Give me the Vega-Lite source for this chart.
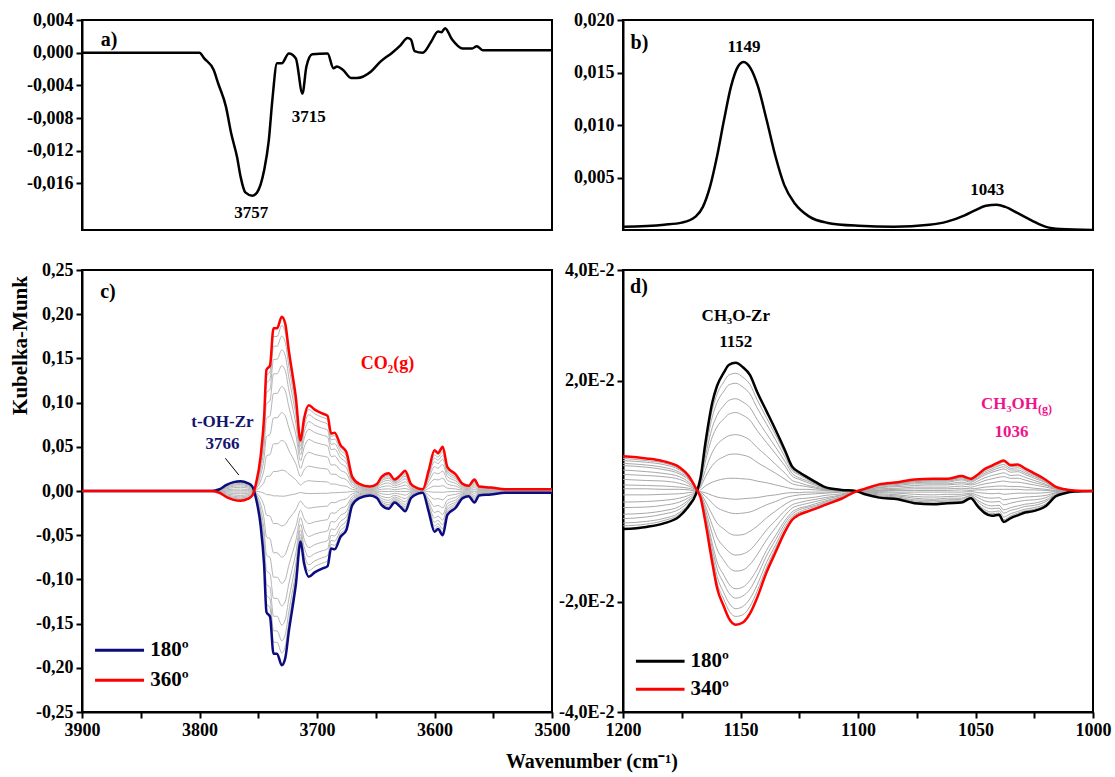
{
  "$schema": "https://vega.github.io/schema/vega-lite/v6.json",
  "background": "white",
  "padding": {"left": 8, "top": 10, "right": 10, "bottom": 5},
  "config": {
    "font": "Liberation Serif",
    "view": {"stroke": "black", "strokeWidth": 2},
    "axis": {"domainColor": "black", "domainWidth": 2, "tickColor": "black", "tickWidth": 2, "tickSize": 6, "labelColor": "black", "labelFont": "Liberation Serif", "labelFontSize": 18, "labelFontWeight": "bold", "grid": false, "labelPadding": 3, "labelFlush": false, "labelOverlap": false, "titleFont": "Liberation Serif", "titleFontWeight": "bold", "titleColor": "black"},
    "text": {"font": "Liberation Serif", "fontWeight": "bold", "fontSize": 17, "baseline": "middle", "color": "black"}
  },
  "title": {"text": "Wavenumber (cm⁻¹)", "orient": "bottom", "anchor": "middle", "fontSize": 20, "font": "Liberation Serif", "fontWeight": "bold", "color": "black", "offset": 12, "dx": 32},
  "columns": 2,
  "bounds": "flush",
  "spacing": {"row": 40, "column": 71},
  "align": "each",
  "resolve": {"scale": {"color": "independent"}, "legend": {"color": "independent"}},
  "concat": [
    {
      "width": 470, "height": 210,
      "data": {"values": [
        {"x":3900,"y":0},{"x":3820,"y":0},{"x":3800,"y":0},{"x":3796,"y":-0.0007},{"x":3788,"y":-0.0021},{"x":3784,"y":-0.0038},{"x":3777.5,"y":-0.0066},{"x":3773,"y":-0.0099},{"x":3768,"y":-0.0128},{"x":3765,"y":-0.0152},{"x":3761,"y":-0.0171},{"x":3755,"y":-0.0175},{"x":3751,"y":-0.0171},{"x":3745,"y":-0.0144},{"x":3741,"y":-0.0107},{"x":3738,"y":-0.0058},{"x":3734,"y":-0.0013},{"x":3730,"y":-0.0013},{"x":3724,"y":-0.0001},{"x":3718,"y":-0.0007},{"x":3712.4,"y":-0.005},{"x":3709,"y":-0.0017},{"x":3704,"y":-0.0002},{"x":3691,"y":-0.0001},{"x":3686,"y":-0.0019},{"x":3683,"y":-0.0017},{"x":3678,"y":-0.0021},{"x":3671,"y":-0.0031},{"x":3666,"y":-0.0031},{"x":3654,"y":-0.0023},{"x":3646,"y":-0.0011},{"x":3636,"y":0},{"x":3629,"y":0.0009},{"x":3623,"y":0.0018},{"x":3620,"y":0.0016},{"x":3617,"y":0.0002},{"x":3610,"y":0},{"x":3603,"y":0.0013},{"x":3597,"y":0.0026},{"x":3594,"y":0.0025},{"x":3591,"y":0.003},{"x":3585,"y":0.0016},{"x":3576,"y":0.0005},{"x":3568,"y":0.0005},{"x":3564,"y":0.0008},{"x":3559,"y":0.0003},{"x":3528,"y":0.0003},{"x":3500,"y":0.0003}
      ]},
      "layer": [
        {"mark": {"type": "line", "color": "black", "strokeWidth": 2.5, "strokeJoin": "round", "interpolate": "monotone", "clip": true},
         "encoding": {
           "x": {"field": "x", "type": "quantitative", "scale": {"domain": [3500, 3900], "reverse": true, "nice": false, "zero": false}, "axis": null},
           "y": {"field": "y", "type": "quantitative", "scale": {"domain": [-0.0217, 0.004], "nice": false, "zero": false}, "axis": {"title": null, "values": [0.004, 0, -0.004, -0.008, -0.012, -0.016], "labelExpr": "replace(replace(format(datum.value, '.3f'), '.', ','), '−', '-')"}}
         }},
        {"data": {"values": [{}]}, "mark": {"type": "text", "text": "a)", "align": "left", "fontSize": 20},
         "encoding": {"x": {"datum": 3884, "type": "quantitative", "title": null}, "y": {"datum": 0.0016, "type": "quantitative", "title": null}}},
        {"data": {"values": [{}]}, "mark": {"type": "text", "text": "3757", "align": "center"},
         "encoding": {"x": {"datum": 3756, "type": "quantitative", "title": null}, "y": {"datum": -0.0196, "type": "quantitative", "title": null}}},
        {"data": {"values": [{}]}, "mark": {"type": "text", "text": "3715", "align": "center"},
         "encoding": {"x": {"datum": 3707, "type": "quantitative", "title": null}, "y": {"datum": -0.0079, "type": "quantitative", "title": null}}}
      ]
    },
    {
      "width": 470, "height": 210,
      "data": {"values": [
        {"x":1200,"y":0.0003},{"x":1182.5,"y":0.0005},{"x":1175,"y":0.0007},{"x":1169,"y":0.0013},{"x":1166,"y":0.0022},{"x":1163,"y":0.0041},{"x":1160,"y":0.007},{"x":1157,"y":0.0105},{"x":1154,"y":0.0137},{"x":1151,"y":0.0156},{"x":1148.7,"y":0.016},{"x":1145.7,"y":0.0154},{"x":1142.6,"y":0.0137},{"x":1138.9,"y":0.0105},{"x":1135.1,"y":0.007},{"x":1131.4,"y":0.0043},{"x":1126.8,"y":0.0025},{"x":1120.9,"y":0.0013},{"x":1113.3,"y":0.0007},{"x":1099.8,"y":0.0004},{"x":1084.7,"y":0.0003},{"x":1069.7,"y":0.0005},{"x":1062.1,"y":0.0008},{"x":1054.6,"y":0.0014},{"x":1050,"y":0.0019},{"x":1045.6,"y":0.0023},{"x":1041,"y":0.0024},{"x":1037.3,"y":0.0022},{"x":1032,"y":0.0016},{"x":1026,"y":0.0009},{"x":1020,"y":0.0003},{"x":1014,"y":0.0001},{"x":1000,"y":0}
      ]},
      "layer": [
        {"mark": {"type": "line", "color": "black", "strokeWidth": 2.5, "strokeJoin": "round", "interpolate": "monotone", "clip": true},
         "encoding": {
           "x": {"field": "x", "type": "quantitative", "scale": {"domain": [1000, 1200], "reverse": true, "nice": false, "zero": false}, "axis": null},
           "y": {"field": "y", "type": "quantitative", "scale": {"domain": [0, 0.02], "nice": false}, "axis": {"title": null, "values": [0.005, 0.01, 0.015, 0.02], "labelExpr": "replace(format(datum.value, '.3f'), '.', ',')"}}
         }},
        {"data": {"values": [{}]}, "mark": {"type": "text", "text": "b)", "align": "left", "fontSize": 20},
         "encoding": {"x": {"datum": 1196.8, "type": "quantitative", "title": null}, "y": {"datum": 0.0178, "type": "quantitative", "title": null}}},
        {"data": {"values": [{}]}, "mark": {"type": "text", "text": "1149", "align": "center"},
         "encoding": {"x": {"datum": 1148.5, "type": "quantitative", "title": null}, "y": {"datum": 0.0174, "type": "quantitative", "title": null}}},
        {"data": {"values": [{}]}, "mark": {"type": "text", "text": "1043", "align": "center"},
         "encoding": {"x": {"datum": 1045, "type": "quantitative", "title": null}, "y": {"datum": 0.0038, "type": "quantitative", "title": null}}}
      ]
    },
    {
      "width": 470, "height": 442,
      "data": {"values": [
        {"x":3900,"180º":0,"360º":0,"g1":0,"g2":0,"g3":0,"g4":0,"g5":0,"g6":0,"g7":0,"g8":0,"g9":0,"g10":0,"g11":0,"g12":0,"g13":0,"g14":0,"g15":0,"g16":0},
        {"x":3790,"180º":0,"360º":0,"g1":0,"g2":0,"g3":0,"g4":0,"g5":0,"g6":0,"g7":0,"g8":0,"g9":0,"g10":0,"g11":0,"g12":0,"g13":0,"g14":0,"g15":0,"g16":0},
        {"x":3783,"180º":0.002,"360º":-0.002,"g1":-0.0019,"g2":-0.0018,"g3":-0.0016,"g4":-0.0014,"g5":-0.0012,"g6":-0.0009,"g7":-0.0006,"g8":-0.0002,"g9":0.0001,"g10":0.0004,"g11":0.0008,"g12":0.0011,"g13":0.0013,"g14":0.0015,"g15":0.0017,"g16":0.0019},
        {"x":3777,"180º":0.007,"360º":-0.007,"g1":-0.0067,"g2":-0.0062,"g3":-0.0057,"g4":-0.005,"g5":-0.0042,"g6":-0.0032,"g7":-0.002,"g8":-0.0008,"g9":0.0002,"g10":0.0014,"g11":0.0027,"g12":0.0037,"g13":0.0046,"g14":0.0054,"g15":0.006,"g16":0.0065},
        {"x":3771,"180º":0.01,"360º":-0.01,"g1":-0.0095,"g2":-0.0089,"g3":-0.0081,"g4":-0.0072,"g5":-0.006,"g6":-0.0045,"g7":-0.0029,"g8":-0.0012,"g9":0.0003,"g10":0.002,"g11":0.0038,"g12":0.0053,"g13":0.0066,"g14":0.0077,"g15":0.0086,"g16":0.0093},
        {"x":3765,"180º":0.011,"360º":-0.011,"g1":-0.0105,"g2":-0.0098,"g3":-0.0089,"g4":-0.0079,"g5":-0.0066,"g6":-0.005,"g7":-0.0032,"g8":-0.0013,"g9":0.0003,"g10":0.0022,"g11":0.0042,"g12":0.0058,"g13":0.0073,"g14":0.0085,"g15":0.0095,"g16":0.0102},
        {"x":3759,"180º":0.009,"360º":-0.009,"g1":-0.0086,"g2":-0.008,"g3":-0.0073,"g4":-0.0065,"g5":-0.0054,"g6":-0.0041,"g7":-0.0026,"g8":-0.0011,"g9":0.0003,"g10":0.0018,"g11":0.0034,"g12":0.0048,"g13":0.0059,"g14":0.0069,"g15":0.0077,"g16":0.0084},
        {"x":3755,"180º":0.005,"360º":-0.005,"g1":-0.0048,"g2":-0.0045,"g3":-0.0041,"g4":-0.0036,"g5":-0.003,"g6":-0.0023,"g7":-0.0015,"g8":-0.0006,"g9":0.0002,"g10":0.001,"g11":0.0019,"g12":0.0027,"g13":0.0033,"g14":0.0039,"g15":0.0043,"g16":0.0047},
        {"x":3752,"180º":-0.008,"360º":0.008,"g1":0.0076,"g2":0.0071,"g3":0.0065,"g4":0.0058,"g5":0.0048,"g6":0.0036,"g7":0.0023,"g8":0.001,"g9":-0.0002,"g10":-0.0016,"g11":-0.003,"g12":-0.0042,"g13":-0.0053,"g14":-0.0062,"g15":-0.0069,"g16":-0.0074},
        {"x":3748,"180º":-0.039,"360º":0.039,"g1":0.037,"g2":0.0347,"g3":0.0316,"g4":0.0281,"g5":0.0234,"g6":0.0176,"g7":0.0113,"g8":0.0047,"g9":-0.0012,"g10":-0.0078,"g11":-0.0148,"g12":-0.0207,"g13":-0.0257,"g14":-0.03,"g15":-0.0335,"g16":-0.0363},
        {"x":3745,"180º":-0.084,"360º":0.084,"g1":0.0798,"g2":0.0748,"g3":0.068,"g4":0.0605,"g5":0.0504,"g6":0.0378,"g7":0.0244,"g8":0.0101,"g9":-0.0025,"g10":-0.0168,"g11":-0.0319,"g12":-0.0445,"g13":-0.0554,"g14":-0.0647,"g15":-0.0722,"g16":-0.0781},
        {"x":3743,"180º":-0.137,"360º":0.137,"g1":0.1302,"g2":0.1219,"g3":0.111,"g4":0.0986,"g5":0.0822,"g6":0.0617,"g7":0.0397,"g8":0.0164,"g9":-0.0041,"g10":-0.0274,"g11":-0.0521,"g12":-0.0726,"g13":-0.0904,"g14":-0.1055,"g15":-0.1178,"g16":-0.1274},
        {"x":3740,"180º":-0.142,"360º":0.142,"g1":0.1349,"g2":0.1264,"g3":0.115,"g4":0.1022,"g5":0.0852,"g6":0.0639,"g7":0.0412,"g8":0.017,"g9":-0.0043,"g10":-0.0284,"g11":-0.054,"g12":-0.0753,"g13":-0.0937,"g14":-0.1093,"g15":-0.1221,"g16":-0.1321},
        {"x":3737,"180º":-0.184,"360º":0.184,"g1":0.1748,"g2":0.1638,"g3":0.149,"g4":0.1325,"g5":0.1104,"g6":0.0828,"g7":0.0534,"g8":0.0221,"g9":-0.0055,"g10":-0.0368,"g11":-0.0699,"g12":-0.0975,"g13":-0.1214,"g14":-0.1417,"g15":-0.1582,"g16":-0.1711},
        {"x":3734,"180º":-0.184,"360º":0.184,"g1":0.1748,"g2":0.1638,"g3":0.149,"g4":0.1325,"g5":0.1104,"g6":0.0828,"g7":0.0534,"g8":0.0221,"g9":-0.0055,"g10":-0.0368,"g11":-0.0699,"g12":-0.0975,"g13":-0.1214,"g14":-0.1417,"g15":-0.1582,"g16":-0.1711},
        {"x":3730,"180º":-0.197,"360º":0.197,"g1":0.1872,"g2":0.1753,"g3":0.1596,"g4":0.1418,"g5":0.1182,"g6":0.0887,"g7":0.0571,"g8":0.0236,"g9":-0.0059,"g10":-0.0394,"g11":-0.0749,"g12":-0.1044,"g13":-0.13,"g14":-0.1517,"g15":-0.1694,"g16":-0.1832},
        {"x":3727,"180º":-0.189,"360º":0.189,"g1":0.1796,"g2":0.1682,"g3":0.1531,"g4":0.1361,"g5":0.1134,"g6":0.0851,"g7":0.0548,"g8":0.0227,"g9":-0.0057,"g10":-0.0378,"g11":-0.0718,"g12":-0.1002,"g13":-0.1247,"g14":-0.1455,"g15":-0.1625,"g16":-0.1758},
        {"x":3724,"180º":-0.159,"360º":0.159,"g1":0.151,"g2":0.1415,"g3":0.1288,"g4":0.1145,"g5":0.0954,"g6":0.0716,"g7":0.0461,"g8":0.0191,"g9":-0.0048,"g10":-0.0318,"g11":-0.0604,"g12":-0.0843,"g13":-0.1049,"g14":-0.1224,"g15":-0.1367,"g16":-0.1479},
        {"x":3721,"180º":-0.133,"360º":0.133,"g1":0.1264,"g2":0.1184,"g3":0.1077,"g4":0.0958,"g5":0.0798,"g6":0.0599,"g7":0.0386,"g8":0.016,"g9":-0.004,"g10":-0.0266,"g11":-0.0505,"g12":-0.0705,"g13":-0.0878,"g14":-0.1024,"g15":-0.1144,"g16":-0.1237},
        {"x":3718,"180º":-0.106,"360º":0.106,"g1":0.1007,"g2":0.0943,"g3":0.0859,"g4":0.0763,"g5":0.0636,"g6":0.0477,"g7":0.0307,"g8":0.0127,"g9":-0.0032,"g10":-0.0212,"g11":-0.0403,"g12":-0.0562,"g13":-0.07,"g14":-0.0816,"g15":-0.0912,"g16":-0.0986},
        {"x":3714,"180º":-0.057,"360º":0.057,"g1":0.0542,"g2":0.0507,"g3":0.0462,"g4":0.041,"g5":0.0342,"g6":0.0257,"g7":0.0165,"g8":0.0068,"g9":-0.0017,"g10":-0.0114,"g11":-0.0217,"g12":-0.0302,"g13":-0.0376,"g14":-0.0439,"g15":-0.049,"g16":-0.053},
        {"x":3711,"180º":-0.082,"360º":0.082,"g1":0.0779,"g2":0.073,"g3":0.0664,"g4":0.059,"g5":0.0492,"g6":0.0369,"g7":0.0238,"g8":0.0098,"g9":-0.0025,"g10":-0.0164,"g11":-0.0312,"g12":-0.0435,"g13":-0.0541,"g14":-0.0631,"g15":-0.0705,"g16":-0.0763},
        {"x":3707,"180º":-0.097,"360º":0.097,"g1":0.0922,"g2":0.0863,"g3":0.0786,"g4":0.0698,"g5":0.0582,"g6":0.0437,"g7":0.0281,"g8":0.0116,"g9":-0.0029,"g10":-0.0194,"g11":-0.0369,"g12":-0.0514,"g13":-0.064,"g14":-0.0747,"g15":-0.0834,"g16":-0.0902},
        {"x":3702,"180º":-0.092,"360º":0.092,"g1":0.0874,"g2":0.0819,"g3":0.0745,"g4":0.0662,"g5":0.0552,"g6":0.0414,"g7":0.0267,"g8":0.011,"g9":-0.0028,"g10":-0.0184,"g11":-0.035,"g12":-0.0488,"g13":-0.0607,"g14":-0.0708,"g15":-0.0791,"g16":-0.0856},
        {"x":3696,"180º":-0.088,"360º":0.088,"g1":0.0836,"g2":0.0783,"g3":0.0713,"g4":0.0634,"g5":0.0528,"g6":0.0396,"g7":0.0255,"g8":0.0106,"g9":-0.0026,"g10":-0.0176,"g11":-0.0334,"g12":-0.0466,"g13":-0.0581,"g14":-0.0678,"g15":-0.0757,"g16":-0.0818},
        {"x":3691,"180º":-0.085,"360º":0.085,"g1":0.0808,"g2":0.0757,"g3":0.0689,"g4":0.0612,"g5":0.051,"g6":0.0383,"g7":0.0247,"g8":0.0102,"g9":-0.0026,"g10":-0.017,"g11":-0.0323,"g12":-0.0451,"g13":-0.0561,"g14":-0.0655,"g15":-0.0731,"g16":-0.0791},
        {"x":3688,"180º":-0.065,"360º":0.065,"g1":0.0618,"g2":0.0579,"g3":0.0527,"g4":0.0468,"g5":0.039,"g6":0.0293,"g7":0.0189,"g8":0.0078,"g9":-0.002,"g10":-0.013,"g11":-0.0247,"g12":-0.0345,"g13":-0.0429,"g14":-0.0501,"g15":-0.0559,"g16":-0.0605},
        {"x":3685,"180º":-0.066,"360º":0.066,"g1":0.0627,"g2":0.0587,"g3":0.0535,"g4":0.0475,"g5":0.0396,"g6":0.0297,"g7":0.0191,"g8":0.0079,"g9":-0.002,"g10":-0.0132,"g11":-0.0251,"g12":-0.035,"g13":-0.0436,"g14":-0.0508,"g15":-0.0568,"g16":-0.0614},
        {"x":3680,"180º":-0.052,"360º":0.052,"g1":0.0494,"g2":0.0463,"g3":0.0421,"g4":0.0374,"g5":0.0312,"g6":0.0234,"g7":0.0151,"g8":0.0062,"g9":-0.0016,"g10":-0.0104,"g11":-0.0198,"g12":-0.0276,"g13":-0.0343,"g14":-0.04,"g15":-0.0447,"g16":-0.0484},
        {"x":3675,"180º":-0.044,"360º":0.044,"g1":0.0418,"g2":0.0392,"g3":0.0356,"g4":0.0317,"g5":0.0264,"g6":0.0198,"g7":0.0128,"g8":0.0053,"g9":-0.0013,"g10":-0.0088,"g11":-0.0167,"g12":-0.0233,"g13":-0.029,"g14":-0.0339,"g15":-0.0378,"g16":-0.0409},
        {"x":3670,"180º":-0.016,"360º":0.016,"g1":0.0152,"g2":0.0142,"g3":0.013,"g4":0.0115,"g5":0.0096,"g6":0.0072,"g7":0.0046,"g8":0.0019,"g9":-0.0005,"g10":-0.0032,"g11":-0.0061,"g12":-0.0085,"g13":-0.0106,"g14":-0.0123,"g15":-0.0138,"g16":-0.0149},
        {"x":3664,"180º":-0.008,"360º":0.008,"g1":0.0076,"g2":0.0071,"g3":0.0065,"g4":0.0058,"g5":0.0048,"g6":0.0036,"g7":0.0023,"g8":0.001,"g9":-0.0002,"g10":-0.0016,"g11":-0.003,"g12":-0.0042,"g13":-0.0053,"g14":-0.0062,"g15":-0.0069,"g16":-0.0074},
        {"x":3655,"180º":-0.005,"360º":0.005,"g1":0.0048,"g2":0.0045,"g3":0.0041,"g4":0.0036,"g5":0.003,"g6":0.0023,"g7":0.0015,"g8":0.0006,"g9":-0.0002,"g10":-0.001,"g11":-0.0019,"g12":-0.0027,"g13":-0.0033,"g14":-0.0039,"g15":-0.0043,"g16":-0.0047},
        {"x":3649,"180º":-0.008,"360º":0.008,"g1":0.0076,"g2":0.0071,"g3":0.0065,"g4":0.0058,"g5":0.0048,"g6":0.0036,"g7":0.0023,"g8":0.001,"g9":-0.0002,"g10":-0.0016,"g11":-0.003,"g12":-0.0042,"g13":-0.0053,"g14":-0.0062,"g15":-0.0069,"g16":-0.0074},
        {"x":3645,"180º":-0.016,"360º":0.016,"g1":0.0152,"g2":0.0142,"g3":0.013,"g4":0.0115,"g5":0.0096,"g6":0.0072,"g7":0.0046,"g8":0.0019,"g9":-0.0005,"g10":-0.0032,"g11":-0.0061,"g12":-0.0085,"g13":-0.0106,"g14":-0.0123,"g15":-0.0138,"g16":-0.0149},
        {"x":3639,"180º":-0.02,"360º":0.02,"g1":0.019,"g2":0.0178,"g3":0.0162,"g4":0.0144,"g5":0.012,"g6":0.009,"g7":0.0058,"g8":0.0024,"g9":-0.0006,"g10":-0.004,"g11":-0.0076,"g12":-0.0106,"g13":-0.0132,"g14":-0.0154,"g15":-0.0172,"g16":-0.0186},
        {"x":3634,"180º":-0.013,"360º":0.013,"g1":0.0124,"g2":0.0116,"g3":0.0105,"g4":0.0094,"g5":0.0078,"g6":0.0059,"g7":0.0038,"g8":0.0016,"g9":-0.0004,"g10":-0.0026,"g11":-0.0049,"g12":-0.0069,"g13":-0.0086,"g14":-0.01,"g15":-0.0112,"g16":-0.0121},
        {"x":3629,"180º":-0.018,"360º":0.018,"g1":0.0171,"g2":0.016,"g3":0.0146,"g4":0.013,"g5":0.0108,"g6":0.0081,"g7":0.0052,"g8":0.0022,"g9":-0.0005,"g10":-0.0036,"g11":-0.0068,"g12":-0.0095,"g13":-0.0119,"g14":-0.0139,"g15":-0.0155,"g16":-0.0167},
        {"x":3625,"180º":-0.023,"360º":0.023,"g1":0.0219,"g2":0.0205,"g3":0.0186,"g4":0.0166,"g5":0.0138,"g6":0.0104,"g7":0.0067,"g8":0.0028,"g9":-0.0007,"g10":-0.0046,"g11":-0.0087,"g12":-0.0122,"g13":-0.0152,"g14":-0.0177,"g15":-0.0198,"g16":-0.0214},
        {"x":3620,"180º":-0.008,"360º":0.008,"g1":0.0076,"g2":0.0071,"g3":0.0065,"g4":0.0058,"g5":0.0048,"g6":0.0036,"g7":0.0023,"g8":0.001,"g9":-0.0002,"g10":-0.0016,"g11":-0.003,"g12":-0.0042,"g13":-0.0053,"g14":-0.0062,"g15":-0.0069,"g16":-0.0074},
        {"x":3614,"180º":-0.003,"360º":0.003,"g1":0.0029,"g2":0.0027,"g3":0.0024,"g4":0.0022,"g5":0.0018,"g6":0.0014,"g7":0.0009,"g8":0.0004,"g9":-0.0001,"g10":-0.0006,"g11":-0.0011,"g12":-0.0016,"g13":-0.002,"g14":-0.0023,"g15":-0.0026,"g16":-0.0028},
        {"x":3610,"180º":-0.002,"360º":0.002,"g1":0.0019,"g2":0.0018,"g3":0.0016,"g4":0.0014,"g5":0.0012,"g6":0.0009,"g7":0.0006,"g8":0.0002,"g9":-0.0001,"g10":-0.0004,"g11":-0.0008,"g12":-0.0011,"g13":-0.0013,"g14":-0.0015,"g15":-0.0017,"g16":-0.0019},
        {"x":3605,"180º":-0.023,"360º":0.023,"g1":0.0219,"g2":0.0205,"g3":0.0186,"g4":0.0166,"g5":0.0138,"g6":0.0104,"g7":0.0067,"g8":0.0028,"g9":-0.0007,"g10":-0.0046,"g11":-0.0087,"g12":-0.0122,"g13":-0.0152,"g14":-0.0177,"g15":-0.0198,"g16":-0.0214},
        {"x":3600,"180º":-0.046,"360º":0.046,"g1":0.0437,"g2":0.0409,"g3":0.0373,"g4":0.0331,"g5":0.0276,"g6":0.0207,"g7":0.0133,"g8":0.0055,"g9":-0.0014,"g10":-0.0092,"g11":-0.0175,"g12":-0.0244,"g13":-0.0304,"g14":-0.0354,"g15":-0.0396,"g16":-0.0428},
        {"x":3597,"180º":-0.043,"360º":0.043,"g1":0.0409,"g2":0.0383,"g3":0.0348,"g4":0.031,"g5":0.0258,"g6":0.0194,"g7":0.0125,"g8":0.0052,"g9":-0.0013,"g10":-0.0086,"g11":-0.0163,"g12":-0.0228,"g13":-0.0284,"g14":-0.0331,"g15":-0.037,"g16":-0.04},
        {"x":3593,"180º":-0.05,"360º":0.05,"g1":0.0475,"g2":0.0445,"g3":0.0405,"g4":0.036,"g5":0.03,"g6":0.0225,"g7":0.0145,"g8":0.006,"g9":-0.0015,"g10":-0.01,"g11":-0.019,"g12":-0.0265,"g13":-0.033,"g14":-0.0385,"g15":-0.043,"g16":-0.0465},
        {"x":3589,"180º":-0.027,"360º":0.027,"g1":0.0257,"g2":0.024,"g3":0.0219,"g4":0.0194,"g5":0.0162,"g6":0.0122,"g7":0.0078,"g8":0.0032,"g9":-0.0008,"g10":-0.0054,"g11":-0.0103,"g12":-0.0143,"g13":-0.0178,"g14":-0.0208,"g15":-0.0232,"g16":-0.0251},
        {"x":3582,"180º":-0.019,"360º":0.019,"g1":0.0181,"g2":0.0169,"g3":0.0154,"g4":0.0137,"g5":0.0114,"g6":0.0086,"g7":0.0055,"g8":0.0023,"g9":-0.0006,"g10":-0.0038,"g11":-0.0072,"g12":-0.0101,"g13":-0.0125,"g14":-0.0146,"g15":-0.0163,"g16":-0.0177},
        {"x":3576,"180º":-0.008,"360º":0.008,"g1":0.0076,"g2":0.0071,"g3":0.0065,"g4":0.0058,"g5":0.0048,"g6":0.0036,"g7":0.0023,"g8":0.001,"g9":-0.0002,"g10":-0.0016,"g11":-0.003,"g12":-0.0042,"g13":-0.0053,"g14":-0.0062,"g15":-0.0069,"g16":-0.0074},
        {"x":3571,"180º":-0.006,"360º":0.006,"g1":0.0057,"g2":0.0053,"g3":0.0049,"g4":0.0043,"g5":0.0036,"g6":0.0027,"g7":0.0017,"g8":0.0007,"g9":-0.0002,"g10":-0.0012,"g11":-0.0023,"g12":-0.0032,"g13":-0.004,"g14":-0.0046,"g15":-0.0052,"g16":-0.0056},
        {"x":3566,"180º":-0.013,"360º":0.013,"g1":0.0124,"g2":0.0116,"g3":0.0105,"g4":0.0094,"g5":0.0078,"g6":0.0059,"g7":0.0038,"g8":0.0016,"g9":-0.0004,"g10":-0.0026,"g11":-0.0049,"g12":-0.0069,"g13":-0.0086,"g14":-0.01,"g15":-0.0112,"g16":-0.0121},
        {"x":3562,"180º":-0.005,"360º":0.005,"g1":0.0048,"g2":0.0045,"g3":0.0041,"g4":0.0036,"g5":0.003,"g6":0.0023,"g7":0.0015,"g8":0.0006,"g9":-0.0002,"g10":-0.001,"g11":-0.0019,"g12":-0.0027,"g13":-0.0033,"g14":-0.0039,"g15":-0.0043,"g16":-0.0047},
        {"x":3552,"180º":-0.004,"360º":0.004,"g1":0.0038,"g2":0.0036,"g3":0.0032,"g4":0.0029,"g5":0.0024,"g6":0.0018,"g7":0.0012,"g8":0.0005,"g9":-0.0001,"g10":-0.0008,"g11":-0.0015,"g12":-0.0021,"g13":-0.0026,"g14":-0.0031,"g15":-0.0034,"g16":-0.0037},
        {"x":3540,"180º":-0.002,"360º":0.002,"g1":0.0019,"g2":0.0018,"g3":0.0016,"g4":0.0014,"g5":0.0012,"g6":0.0009,"g7":0.0006,"g8":0.0002,"g9":-0.0001,"g10":-0.0004,"g11":-0.0008,"g12":-0.0011,"g13":-0.0013,"g14":-0.0015,"g15":-0.0017,"g16":-0.0019},
        {"x":3500,"180º":-0.002,"360º":0.002,"g1":0.0019,"g2":0.0018,"g3":0.0016,"g4":0.0014,"g5":0.0012,"g6":0.0009,"g7":0.0006,"g8":0.0002,"g9":-0.0001,"g10":-0.0004,"g11":-0.0008,"g12":-0.0011,"g13":-0.0013,"g14":-0.0015,"g15":-0.0017,"g16":-0.0019}
      ]},
      "layer": [
        {"transform": [{"fold": ["g1","g2","g3","g4","g5","g6","g7","g8","g9","g10","g11","g12","g13","g14","g15","g16"], "as": ["k", "v"]}],
         "mark": {"type": "line", "color": "#b4b4b4", "strokeWidth": 1, "interpolate": "monotone", "clip": true},
         "encoding": {
           "x": {"field": "x", "type": "quantitative", "scale": {"domain": [3500, 3900], "reverse": true, "nice": false, "zero": false}, "axis": {"title": null, "values": [3900, 3850, 3800, 3750, 3700, 3650, 3600, 3550, 3500], "labelExpr": "datum.value % 100 == 0 ? format(datum.value, 'd') : ''"}},
           "y": {"field": "v", "type": "quantitative", "title": "Kubelka-Munk", "scale": {"domain": [-0.25, 0.25], "nice": false}, "axis": {"title": "Kubelka-Munk", "titleFontSize": 21, "titleX": -62, "titleY": 75, "titleAngle": 270, "titleAlign": "center", "titleBaseline": "middle", "values": [0.25, 0.2, 0.15, 0.1, 0.05, 0, -0.05, -0.1, -0.15, -0.2, -0.25], "labelExpr": "replace(replace(format(datum.value, '.2f'), '.', ','), '−', '-')"}},
           "detail": {"field": "k"}
         }},
        {"transform": [{"fold": ["180º", "360º"], "as": ["s", "v"]}],
         "mark": {"type": "line", "strokeWidth": 2.5, "strokeJoin": "round", "interpolate": "monotone", "clip": true},
         "encoding": {
           "x": {"field": "x", "type": "quantitative", "title": null},
           "y": {"field": "v", "type": "quantitative", "title": "Kubelka-Munk"},
           "color": {"field": "s", "type": "nominal", "scale": {"domain": ["180º", "360º"], "range": ["#0c0c80", "#ff0000"]}, "legend": null}
         }},
        {"data": {"values": [{}]}, "mark": {"type": "rule", "color": "#0c0c80", "strokeWidth": 3},
         "encoding": {"x": {"datum": 3888.9, "type": "quantitative", "title": null}, "x2": {"datum": 3847.2}, "y": {"datum": -0.1802, "type": "quantitative", "title": "Kubelka-Munk"}}},
        {"data": {"values": [{}]}, "mark": {"type": "rule", "color": "#ff0000", "strokeWidth": 3},
         "encoding": {"x": {"datum": 3888.9, "type": "quantitative", "title": null}, "x2": {"datum": 3847.2}, "y": {"datum": -0.2141, "type": "quantitative", "title": "Kubelka-Munk"}}},
        {"data": {"values": [{}]}, "mark": {"type": "text", "text": "180º", "align": "left", "fontSize": 21},
         "encoding": {"x": {"datum": 3842, "type": "quantitative", "title": null}, "y": {"datum": -0.1802, "type": "quantitative", "title": "Kubelka-Munk"}}},
        {"data": {"values": [{}]}, "mark": {"type": "text", "text": "360º", "align": "left", "fontSize": 21},
         "encoding": {"x": {"datum": 3842, "type": "quantitative", "title": null}, "y": {"datum": -0.2141, "type": "quantitative", "title": "Kubelka-Munk"}}},
        {"data": {"values": [{}]}, "mark": {"type": "text", "text": "c)", "align": "left", "fontSize": 20},
         "encoding": {"x": {"datum": 3884.5, "type": "quantitative", "title": null}, "y": {"datum": 0.225, "type": "quantitative", "title": "Kubelka-Munk"}}},
        {"data": {"values": [{}]}, "mark": {"type": "text", "text": "CO₂(g)", "align": "center", "color": "#ff0000", "fontSize": 18},
         "encoding": {"x": {"datum": 3640, "type": "quantitative", "title": null}, "y": {"datum": 0.144, "type": "quantitative", "title": "Kubelka-Munk"}}},
        {"data": {"values": [{}]}, "mark": {"type": "text", "text": "t-OH-Zr", "align": "center", "color": "#14146e"},
         "encoding": {"x": {"datum": 3780.5, "type": "quantitative", "title": null}, "y": {"datum": 0.078, "type": "quantitative", "title": "Kubelka-Munk"}}},
        {"data": {"values": [{}]}, "mark": {"type": "text", "text": "3766", "align": "center", "color": "#14146e"},
         "encoding": {"x": {"datum": 3780.5, "type": "quantitative", "title": null}, "y": {"datum": 0.0536, "type": "quantitative", "title": "Kubelka-Munk"}}},
        {"data": {"values": [{}]}, "mark": {"type": "rule", "color": "black", "strokeWidth": 1},
         "encoding": {"x": {"datum": 3778, "type": "quantitative", "title": null}, "y": {"datum": 0.037, "type": "quantitative", "title": "Kubelka-Munk"}, "x2": {"datum": 3766.5}, "y2": {"datum": 0.018}}}
      ]
    },
    {
      "width": 470, "height": 442,
      "data": {"values": [
        {"x":1200,"180º":-0.0069,"340º":0.0063,"g1":-0.0063,"g2":-0.0058,"g3":-0.005,"g4":-0.0042,"g5":-0.003,"g6":-0.002,"g7":-0.0007,"g8":0.0004,"g9":0.0011,"g10":0.0021,"g11":0.003,"g12":0.0038,"g13":0.0046,"g14":0.005,"g15":0.0055,"g16":0.0059},
        {"x":1190,"180º":-0.0065,"340º":0.0059,"g1":-0.006,"g2":-0.0055,"g3":-0.0047,"g4":-0.004,"g5":-0.0029,"g6":-0.0019,"g7":-0.0007,"g8":0.0004,"g9":0.001,"g10":0.0019,"g11":0.0028,"g12":0.0035,"g13":0.0043,"g14":0.0047,"g15":0.0052,"g16":0.0055},
        {"x":1183,"180º":-0.0059,"340º":0.0054,"g1":-0.0054,"g2":-0.005,"g3":-0.0042,"g4":-0.0036,"g5":-0.0026,"g6":-0.0017,"g7":-0.0006,"g8":0.0003,"g9":0.0009,"g10":0.0018,"g11":0.0026,"g12":0.0032,"g13":0.0039,"g14":0.0043,"g15":0.0048,"g16":0.0051},
        {"x":1176,"180º":-0.0046,"340º":0.0043,"g1":-0.0042,"g2":-0.0039,"g3":-0.0033,"g4":-0.0028,"g5":-0.002,"g6":-0.0013,"g7":-0.0005,"g8":0.0003,"g9":0.0007,"g10":0.0014,"g11":0.0021,"g12":0.0026,"g13":0.0031,"g14":0.0034,"g15":0.0038,"g16":0.004},
        {"x":1172,"180º":-0.0027,"340º":0.0027,"g1":-0.0025,"g2":-0.0023,"g3":-0.0019,"g4":-0.0016,"g5":-0.0012,"g6":-0.0008,"g7":-0.0003,"g8":0.0002,"g9":0.0005,"g10":0.0009,"g11":0.0013,"g12":0.0016,"g13":0.002,"g14":0.0022,"g15":0.0024,"g16":0.0025},
        {"x":1169,"180º":-0.0006,"340º":0.0005,"g1":-0.0006,"g2":-0.0005,"g3":-0.0004,"g4":-0.0004,"g5":-0.0003,"g6":-0.0002,"g7":-0.0001,"g8":0,"g9":0.0001,"g10":0.0002,"g11":0.0002,"g12":0.0003,"g13":0.0004,"g14":0.0004,"g15":0.0004,"g16":0.0005},
        {"x":1167,"180º":0.0024,"340º":-0.0012,"g1":0.0022,"g2":0.002,"g3":0.0017,"g4":0.0015,"g5":0.0011,"g6":0.0007,"g7":0.0002,"g8":-0.0001,"g9":-0.0002,"g10":-0.0004,"g11":-0.0006,"g12":-0.0007,"g13":-0.0009,"g14":-0.001,"g15":-0.0011,"g16":-0.0011},
        {"x":1165,"180º":0.0085,"340º":-0.0055,"g1":0.0078,"g2":0.0071,"g3":0.0061,"g4":0.0052,"g5":0.0037,"g6":0.0025,"g7":0.0009,"g8":-0.0003,"g9":-0.0009,"g10":-0.0018,"g11":-0.0026,"g12":-0.0033,"g13":-0.004,"g14":-0.0044,"g15":-0.0048,"g16":-0.0052},
        {"x":1162,"180º":0.016,"340º":-0.013,"g1":0.0147,"g2":0.0134,"g3":0.0115,"g4":0.0098,"g5":0.007,"g6":0.0046,"g7":0.0016,"g8":-0.0008,"g9":-0.0022,"g10":-0.0043,"g11":-0.0062,"g12":-0.0078,"g13":-0.0095,"g14":-0.0104,"g15":-0.0114,"g16":-0.0122},
        {"x":1160,"180º":0.019,"340º":-0.0175,"g1":0.0175,"g2":0.016,"g3":0.0137,"g4":0.0116,"g5":0.0084,"g6":0.0055,"g7":0.0019,"g8":-0.0011,"g9":-0.003,"g10":-0.0058,"g11":-0.0084,"g12":-0.0105,"g13":-0.0128,"g14":-0.014,"g15":-0.0154,"g16":-0.0165},
        {"x":1157,"180º":0.0215,"340º":-0.021,"g1":0.0198,"g2":0.0181,"g3":0.0155,"g4":0.0131,"g5":0.0095,"g6":0.0062,"g7":0.0022,"g8":-0.0013,"g9":-0.0036,"g10":-0.0069,"g11":-0.0101,"g12":-0.0126,"g13":-0.0153,"g14":-0.0168,"g15":-0.0185,"g16":-0.0197},
        {"x":1155,"180º":0.0228,"340º":-0.023,"g1":0.021,"g2":0.0192,"g3":0.0164,"g4":0.0139,"g5":0.01,"g6":0.0066,"g7":0.0023,"g8":-0.0014,"g9":-0.0039,"g10":-0.0076,"g11":-0.011,"g12":-0.0138,"g13":-0.0168,"g14":-0.0184,"g15":-0.0202,"g16":-0.0216},
        {"x":1152,"180º":0.0232,"340º":-0.0242,"g1":0.0213,"g2":0.0195,"g3":0.0167,"g4":0.0142,"g5":0.0102,"g6":0.0067,"g7":0.0023,"g8":-0.0015,"g9":-0.0041,"g10":-0.008,"g11":-0.0116,"g12":-0.0145,"g13":-0.0177,"g14":-0.0194,"g15":-0.0213,"g16":-0.0227},
        {"x":1149,"180º":0.0224,"340º":-0.0238,"g1":0.0206,"g2":0.0188,"g3":0.0161,"g4":0.0137,"g5":0.0099,"g6":0.0065,"g7":0.0022,"g8":-0.0014,"g9":-0.004,"g10":-0.0079,"g11":-0.0114,"g12":-0.0143,"g13":-0.0174,"g14":-0.019,"g15":-0.0209,"g16":-0.0224},
        {"x":1146,"180º":0.021,"340º":-0.0222,"g1":0.0193,"g2":0.0176,"g3":0.0151,"g4":0.0128,"g5":0.0092,"g6":0.0061,"g7":0.0021,"g8":-0.0013,"g9":-0.0038,"g10":-0.0073,"g11":-0.0107,"g12":-0.0133,"g13":-0.0162,"g14":-0.0178,"g15":-0.0195,"g16":-0.0209},
        {"x":1143,"180º":0.018,"340º":-0.0194,"g1":0.0166,"g2":0.0151,"g3":0.013,"g4":0.011,"g5":0.0079,"g6":0.0052,"g7":0.0018,"g8":-0.0012,"g9":-0.0033,"g10":-0.0064,"g11":-0.0093,"g12":-0.0116,"g13":-0.0142,"g14":-0.0155,"g15":-0.0171,"g16":-0.0182},
        {"x":1139,"180º":0.0145,"340º":-0.0148,"g1":0.0133,"g2":0.0122,"g3":0.0104,"g4":0.0088,"g5":0.0064,"g6":0.0042,"g7":0.0015,"g8":-0.0009,"g9":-0.0025,"g10":-0.0049,"g11":-0.0071,"g12":-0.0089,"g13":-0.0108,"g14":-0.0118,"g15":-0.013,"g16":-0.0139},
        {"x":1135,"180º":0.011,"340º":-0.011,"g1":0.0101,"g2":0.0092,"g3":0.0079,"g4":0.0067,"g5":0.0048,"g6":0.0032,"g7":0.0011,"g8":-0.0007,"g9":-0.0019,"g10":-0.0036,"g11":-0.0053,"g12":-0.0066,"g13":-0.008,"g14":-0.0088,"g15":-0.0097,"g16":-0.0103},
        {"x":1131,"180º":0.0073,"340º":-0.0073,"g1":0.0067,"g2":0.0061,"g3":0.0053,"g4":0.0045,"g5":0.0032,"g6":0.0021,"g7":0.0007,"g8":-0.0004,"g9":-0.0012,"g10":-0.0024,"g11":-0.0035,"g12":-0.0044,"g13":-0.0053,"g14":-0.0058,"g15":-0.0064,"g16":-0.0069},
        {"x":1128,"180º":0.0044,"340º":-0.0052,"g1":0.004,"g2":0.0037,"g3":0.0032,"g4":0.0027,"g5":0.0019,"g6":0.0013,"g7":0.0004,"g8":-0.0003,"g9":-0.0009,"g10":-0.0017,"g11":-0.0025,"g12":-0.0031,"g13":-0.0038,"g14":-0.0042,"g15":-0.0046,"g16":-0.0049},
        {"x":1125,"180º":0.0034,"340º":-0.0043,"g1":0.0031,"g2":0.0029,"g3":0.0024,"g4":0.0021,"g5":0.0015,"g6":0.001,"g7":0.0003,"g8":-0.0003,"g9":-0.0007,"g10":-0.0014,"g11":-0.0021,"g12":-0.0026,"g13":-0.0031,"g14":-0.0034,"g15":-0.0038,"g16":-0.004},
        {"x":1122,"180º":0.0026,"340º":-0.0038,"g1":0.0024,"g2":0.0022,"g3":0.0019,"g4":0.0016,"g5":0.0011,"g6":0.0008,"g7":0.0003,"g8":-0.0002,"g9":-0.0006,"g10":-0.0013,"g11":-0.0018,"g12":-0.0023,"g13":-0.0028,"g14":-0.003,"g15":-0.0033,"g16":-0.0036},
        {"x":1118,"180º":0.0016,"340º":-0.0032,"g1":0.0015,"g2":0.0013,"g3":0.0012,"g4":0.001,"g5":0.0007,"g6":0.0005,"g7":0.0002,"g8":-0.0002,"g9":-0.0005,"g10":-0.0011,"g11":-0.0015,"g12":-0.0019,"g13":-0.0023,"g14":-0.0026,"g15":-0.0028,"g16":-0.003},
        {"x":1114,"180º":0.0007,"340º":-0.0025,"g1":0.0006,"g2":0.0006,"g3":0.0005,"g4":0.0004,"g5":0.0003,"g6":0.0002,"g7":0.0001,"g8":-0.0002,"g9":-0.0004,"g10":-0.0008,"g11":-0.0012,"g12":-0.0015,"g13":-0.0018,"g14":-0.002,"g15":-0.0022,"g16":-0.0024},
        {"x":1107,"180º":0.0002,"340º":-0.0014,"g1":0.0002,"g2":0.0002,"g3":0.0001,"g4":0.0001,"g5":0.0001,"g6":0.0001,"g7":0,"g8":-0.0001,"g9":-0.0002,"g10":-0.0005,"g11":-0.0007,"g12":-0.0008,"g13":-0.001,"g14":-0.0011,"g15":-0.0012,"g16":-0.0013},
        {"x":1101,"180º":0,"340º":-0.0001,"g1":0,"g2":0,"g3":0,"g4":0,"g5":0,"g6":0,"g7":0,"g8":0,"g9":0,"g10":0,"g11":0,"g12":-0.0001,"g13":-0.0001,"g14":-0.0001,"g15":-0.0001,"g16":-0.0001},
        {"x":1097,"180º":-0.0006,"340º":0.0004,"g1":-0.0006,"g2":-0.0005,"g3":-0.0004,"g4":-0.0004,"g5":-0.0003,"g6":-0.0002,"g7":-0.0001,"g8":0,"g9":0.0001,"g10":0.0001,"g11":0.0002,"g12":0.0002,"g13":0.0003,"g14":0.0003,"g15":0.0004,"g16":0.0004},
        {"x":1091,"180º":-0.0012,"340º":0.0012,"g1":-0.0011,"g2":-0.001,"g3":-0.0009,"g4":-0.0007,"g5":-0.0005,"g6":-0.0003,"g7":-0.0001,"g8":0.0001,"g9":0.0002,"g10":0.0004,"g11":0.0006,"g12":0.0007,"g13":0.0009,"g14":0.001,"g15":0.0011,"g16":0.0011},
        {"x":1083,"180º":-0.0015,"340º":0.0016,"g1":-0.0014,"g2":-0.0013,"g3":-0.0011,"g4":-0.0009,"g5":-0.0007,"g6":-0.0004,"g7":-0.0002,"g8":0.0001,"g9":0.0003,"g10":0.0005,"g11":0.0008,"g12":0.001,"g13":0.0012,"g14":0.0013,"g15":0.0014,"g16":0.0015},
        {"x":1076,"180º":-0.0022,"340º":0.0021,"g1":-0.002,"g2":-0.0018,"g3":-0.0016,"g4":-0.0013,"g5":-0.001,"g6":-0.0006,"g7":-0.0002,"g8":0.0001,"g9":0.0004,"g10":0.0007,"g11":0.001,"g12":0.0013,"g13":0.0015,"g14":0.0017,"g15":0.0018,"g16":0.002},
        {"x":1068,"180º":-0.0024,"340º":0.0022,"g1":-0.0022,"g2":-0.002,"g3":-0.0017,"g4":-0.0015,"g5":-0.0011,"g6":-0.0007,"g7":-0.0002,"g8":0.0001,"g9":0.0004,"g10":0.0007,"g11":0.0011,"g12":0.0013,"g13":0.0016,"g14":0.0018,"g15":0.0019,"g16":0.0021},
        {"x":1062,"180º":-0.0022,"340º":0.0022,"g1":-0.002,"g2":-0.0018,"g3":-0.0016,"g4":-0.0013,"g5":-0.001,"g6":-0.0006,"g7":-0.0002,"g8":0.0001,"g9":0.0004,"g10":0.0007,"g11":0.0011,"g12":0.0013,"g13":0.0016,"g14":0.0018,"g15":0.0019,"g16":0.0021},
        {"x":1056,"180º":-0.0021,"340º":0.0027,"g1":-0.0019,"g2":-0.0018,"g3":-0.0015,"g4":-0.0013,"g5":-0.0009,"g6":-0.0006,"g7":-0.0002,"g8":0.0002,"g9":0.0005,"g10":0.0009,"g11":0.0013,"g12":0.0016,"g13":0.002,"g14":0.0022,"g15":0.0024,"g16":0.0025},
        {"x":1052,"180º":-0.0013,"340º":0.0022,"g1":-0.0012,"g2":-0.0011,"g3":-0.0009,"g4":-0.0008,"g5":-0.0006,"g6":-0.0004,"g7":-0.0001,"g8":0.0001,"g9":0.0004,"g10":0.0007,"g11":0.0011,"g12":0.0013,"g13":0.0016,"g14":0.0018,"g15":0.0019,"g16":0.0021},
        {"x":1049,"180º":-0.0028,"340º":0.003,"g1":-0.0026,"g2":-0.0024,"g3":-0.002,"g4":-0.0017,"g5":-0.0012,"g6":-0.0008,"g7":-0.0003,"g8":0.0002,"g9":0.0005,"g10":0.001,"g11":0.0014,"g12":0.0018,"g13":0.0022,"g14":0.0024,"g15":0.0026,"g16":0.0028},
        {"x":1046,"180º":-0.004,"340º":0.004,"g1":-0.0037,"g2":-0.0034,"g3":-0.0029,"g4":-0.0024,"g5":-0.0018,"g6":-0.0012,"g7":-0.0004,"g8":0.0002,"g9":0.0007,"g10":0.0013,"g11":0.0019,"g12":0.0024,"g13":0.0029,"g14":0.0032,"g15":0.0035,"g16":0.0038},
        {"x":1043,"180º":-0.0045,"340º":0.0046,"g1":-0.0041,"g2":-0.0038,"g3":-0.0032,"g4":-0.0027,"g5":-0.002,"g6":-0.0013,"g7":-0.0005,"g8":0.0003,"g9":0.0008,"g10":0.0015,"g11":0.0022,"g12":0.0028,"g13":0.0034,"g14":0.0037,"g15":0.004,"g16":0.0043},
        {"x":1040,"180º":-0.0043,"340º":0.0052,"g1":-0.004,"g2":-0.0036,"g3":-0.0031,"g4":-0.0026,"g5":-0.0019,"g6":-0.0012,"g7":-0.0004,"g8":0.0003,"g9":0.0009,"g10":0.0017,"g11":0.0025,"g12":0.0031,"g13":0.0038,"g14":0.0042,"g15":0.0046,"g16":0.0049},
        {"x":1038,"180º":-0.0056,"340º":0.0055,"g1":-0.0052,"g2":-0.0047,"g3":-0.004,"g4":-0.0034,"g5":-0.0025,"g6":-0.0016,"g7":-0.0006,"g8":0.0003,"g9":0.0009,"g10":0.0018,"g11":0.0026,"g12":0.0033,"g13":0.004,"g14":0.0044,"g15":0.0048,"g16":0.0052},
        {"x":1035,"180º":-0.0049,"340º":0.0047,"g1":-0.0045,"g2":-0.0041,"g3":-0.0035,"g4":-0.003,"g5":-0.0022,"g6":-0.0014,"g7":-0.0005,"g8":0.0003,"g9":0.0008,"g10":0.0016,"g11":0.0023,"g12":0.0028,"g13":0.0034,"g14":0.0038,"g15":0.0041,"g16":0.0044},
        {"x":1032,"180º":-0.0044,"340º":0.0048,"g1":-0.004,"g2":-0.0037,"g3":-0.0032,"g4":-0.0027,"g5":-0.0019,"g6":-0.0013,"g7":-0.0004,"g8":0.0003,"g9":0.0008,"g10":0.0016,"g11":0.0023,"g12":0.0029,"g13":0.0035,"g14":0.0038,"g15":0.0042,"g16":0.0045},
        {"x":1029,"180º":-0.0039,"340º":0.0041,"g1":-0.0036,"g2":-0.0033,"g3":-0.0028,"g4":-0.0024,"g5":-0.0017,"g6":-0.0011,"g7":-0.0004,"g8":0.0002,"g9":0.0007,"g10":0.0014,"g11":0.002,"g12":0.0025,"g13":0.003,"g14":0.0033,"g15":0.0036,"g16":0.0039},
        {"x":1025,"180º":-0.0036,"340º":0.0032,"g1":-0.0033,"g2":-0.003,"g3":-0.0026,"g4":-0.0022,"g5":-0.0016,"g6":-0.001,"g7":-0.0004,"g8":0.0002,"g9":0.0005,"g10":0.0011,"g11":0.0015,"g12":0.0019,"g13":0.0023,"g14":0.0026,"g15":0.0028,"g16":0.003},
        {"x":1020,"180º":-0.0027,"340º":0.002,"g1":-0.0025,"g2":-0.0023,"g3":-0.0019,"g4":-0.0016,"g5":-0.0012,"g6":-0.0008,"g7":-0.0003,"g8":0.0001,"g9":0.0003,"g10":0.0007,"g11":0.001,"g12":0.0012,"g13":0.0015,"g14":0.0016,"g15":0.0018,"g16":0.0019},
        {"x":1016,"180º":-0.001,"340º":0.0008,"g1":-0.0009,"g2":-0.0008,"g3":-0.0007,"g4":-0.0006,"g5":-0.0004,"g6":-0.0003,"g7":-0.0001,"g8":0,"g9":0.0001,"g10":0.0003,"g11":0.0004,"g12":0.0005,"g13":0.0006,"g14":0.0006,"g15":0.0007,"g16":0.0008},
        {"x":1012,"180º":-0.0004,"340º":0.0003,"g1":-0.0004,"g2":-0.0003,"g3":-0.0003,"g4":-0.0002,"g5":-0.0002,"g6":-0.0001,"g7":0,"g8":0,"g9":0.0001,"g10":0.0001,"g11":0.0001,"g12":0.0002,"g13":0.0002,"g14":0.0002,"g15":0.0003,"g16":0.0003},
        {"x":1008,"180º":-0.0001,"340º":0.0001,"g1":-0.0001,"g2":-0.0001,"g3":-0.0001,"g4":-0.0001,"g5":0,"g6":0,"g7":0,"g8":0,"g9":0,"g10":0,"g11":0,"g12":0.0001,"g13":0.0001,"g14":0.0001,"g15":0.0001,"g16":0.0001},
        {"x":1000,"180º":0,"340º":0,"g1":0,"g2":0,"g3":0,"g4":0,"g5":0,"g6":0,"g7":0,"g8":0,"g9":0,"g10":0,"g11":0,"g12":0,"g13":0,"g14":0,"g15":0,"g16":0}
      ]},
      "layer": [
        {"transform": [{"fold": ["g1","g2","g3","g4","g5","g6","g7","g8","g9","g10","g11","g12","g13","g14","g15","g16"], "as": ["k", "v"]}],
         "mark": {"type": "line", "color": "#a8a8a8", "strokeWidth": 1, "interpolate": "monotone", "clip": true},
         "encoding": {
           "x": {"field": "x", "type": "quantitative", "scale": {"domain": [1000, 1200], "reverse": true, "nice": false, "zero": false}, "axis": {"title": null, "values": [1200, 1175, 1150, 1125, 1100, 1075, 1050, 1025, 1000], "labelExpr": "datum.value % 50 == 0 ? format(datum.value, 'd') : ''"}},
           "y": {"field": "v", "type": "quantitative", "scale": {"domain": [-0.04, 0.04], "nice": false}, "axis": {"title": null, "values": [0.04, 0.02, -0.02, -0.04], "labelExpr": "replace(replace(upper(format(datum.value, '.1e')), '.', ','), '−', '-')"}},
           "detail": {"field": "k"}
         }},
        {"transform": [{"fold": ["180º", "340º"], "as": ["s", "v"]}],
         "mark": {"type": "line", "strokeWidth": 2.5, "strokeJoin": "round", "interpolate": "monotone", "clip": true},
         "encoding": {
           "x": {"field": "x", "type": "quantitative", "title": null},
           "y": {"field": "v", "type": "quantitative", "title": null},
           "color": {"field": "s", "type": "nominal", "scale": {"domain": ["180º", "340º"], "range": ["#000000", "#ff0000"]}, "legend": null}
         }},
        {"data": {"values": [{}]}, "mark": {"type": "rule", "color": "#000000", "strokeWidth": 3},
         "encoding": {"x": {"datum": 1194.5, "type": "quantitative", "title": null}, "x2": {"datum": 1173.8}, "y": {"datum": -0.0308, "type": "quantitative", "title": null}}},
        {"data": {"values": [{}]}, "mark": {"type": "rule", "color": "#ff0000", "strokeWidth": 3},
         "encoding": {"x": {"datum": 1194.5, "type": "quantitative", "title": null}, "x2": {"datum": 1173.8}, "y": {"datum": -0.0359, "type": "quantitative", "title": null}}},
        {"data": {"values": [{}]}, "mark": {"type": "text", "text": "180º", "align": "left", "fontSize": 21},
         "encoding": {"x": {"datum": 1171.3, "type": "quantitative", "title": null}, "y": {"datum": -0.0308, "type": "quantitative", "title": null}}},
        {"data": {"values": [{}]}, "mark": {"type": "text", "text": "340º", "align": "left", "fontSize": 21},
         "encoding": {"x": {"datum": 1171.3, "type": "quantitative", "title": null}, "y": {"datum": -0.0359, "type": "quantitative", "title": null}}},
        {"data": {"values": [{}]}, "mark": {"type": "text", "text": "d)", "align": "left", "fontSize": 20},
         "encoding": {"x": {"datum": 1197, "type": "quantitative", "title": null}, "y": {"datum": 0.0369, "type": "quantitative", "title": null}}},
        {"data": {"values": [{}]}, "mark": {"type": "text", "text": "CH₃O-Zr", "align": "center"},
         "encoding": {"x": {"datum": 1152, "type": "quantitative", "title": null}, "y": {"datum": 0.0317, "type": "quantitative", "title": null}}},
        {"data": {"values": [{}]}, "mark": {"type": "text", "text": "1152", "align": "center"},
         "encoding": {"x": {"datum": 1152, "type": "quantitative", "title": null}, "y": {"datum": 0.0269, "type": "quantitative", "title": null}}},
        {"data": {"values": [{}]}, "mark": {"type": "text", "text": "CH₃OH", "align": "right", "color": "#f0148c"},
         "encoding": {"x": {"datum": 1023.4, "type": "quantitative", "title": null}, "y": {"datum": 0.0157, "type": "quantitative", "title": null}}},
        {"data": {"values": [{}]}, "mark": {"type": "text", "text": "(g)", "align": "left", "color": "#f0148c", "fontSize": 12},
         "encoding": {"x": {"datum": 1023.4, "type": "quantitative", "title": null}, "y": {"datum": 0.0149, "type": "quantitative", "title": null}}},
        {"data": {"values": [{}]}, "mark": {"type": "text", "text": "1036", "align": "center", "color": "#f0148c"},
         "encoding": {"x": {"datum": 1034.7, "type": "quantitative", "title": null}, "y": {"datum": 0.0107, "type": "quantitative", "title": null}}}
      ]
    }
  ]
}
